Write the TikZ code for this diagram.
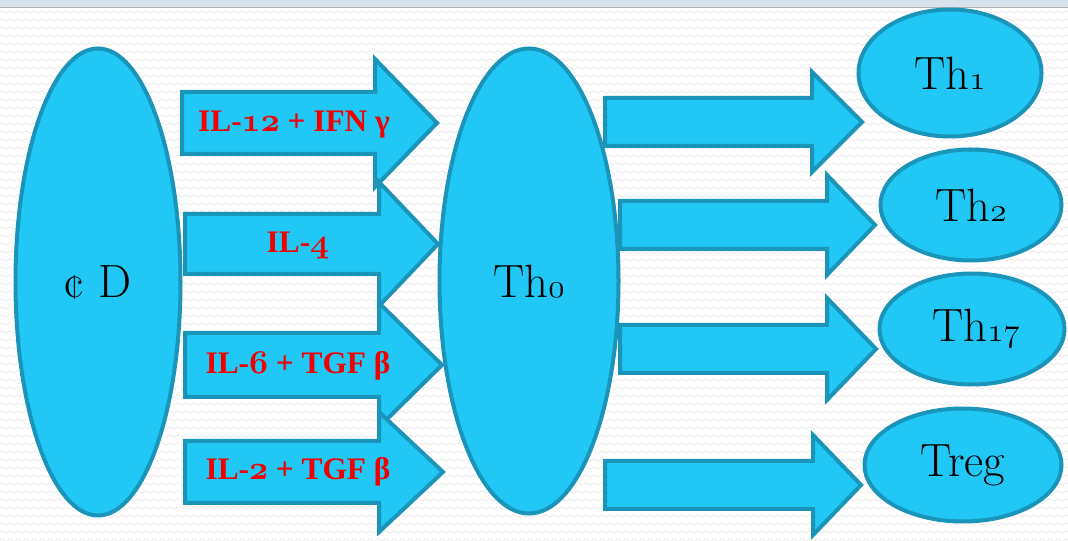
\documentclass[tikz,border=0pt]{standalone}
\usepackage{fontspec}
\newfontfamily\labelfont{Liberation Serif}
\usetikzlibrary{shapes.geometric,decorations.pathmorphing}
\definecolor{cellfill}{RGB}{34,200,245}
\definecolor{celledge}{RGB}{26,148,184}
\definecolor{labelred}{RGB}{240,0,0}
\definecolor{wave}{RGB}{236,236,236}
\definecolor{topband}{RGB}{214,226,236}
% old-style figures taken from the math italic fonts
\newcommand\os[1]{{\fontencoding{OML}\fontfamily{cmm}\fontseries{m}%
  \fontshape{it}\selectfont #1}}
\newcommand\osb[1]{{\fontencoding{OML}\fontfamily{cmm}\fontseries{b}%
  \fontshape{it}\selectfont #1}}
% block arrow: left x, head base x, tip x, centre y, half shaft, half head
\newcommand\blockarr[6]{%
  \draw[arrowbox] (#1,#4-#5) -- (#2,#4-#5) -- (#2,#4-#6) -- (#3,#4)
    -- (#2,#4+#6) -- (#2,#4+#5) -- (#1,#4+#5) -- cycle;}
\tikzset{
  cell/.style={ellipse, draw=celledge, fill=cellfill, line width=3pt,
    inner sep=0pt, font=\fontsize{35}{40}\selectfont},
  arrowbox/.style={draw=celledge, fill=cellfill, line width=3pt, line join=miter},
  cytokine/.style={text=labelred, font=\fontsize{23.5}{28}\selectfont\labelfont\bfseries, inner sep=0pt},
}
\begin{document}
\begin{tikzpicture}[x=0.75pt,y=-0.75pt]
\useasboundingbox (0,0) rectangle (1068,541);
\fill[white] (0,0) rectangle (1068,541);
% faint wavy background texture
\foreach \r in {0,...,66}
  \draw[wave, line width=0.6pt, decorate,
        decoration={zigzag, segment length=6pt, amplitude=1pt}]
    (0,12+\r*8) -- (1068,12+\r*8);
\fill[topband] (0,0) rectangle (1068,7);
\draw[gray!60, line width=0.6pt] (0,7) -- (1068,7);

% cells
\node[cell, minimum width=165*0.75pt, minimum height=467*0.75pt] (cd) at (98,282) {¢ D};
\node[cell, minimum width=179*0.75pt, minimum height=465*0.75pt] (th0) at (529,281) {Th\os{0}};
\node[cell, minimum width=183*0.75pt, minimum height=127*0.75pt] (th1) at (950,73) {Th\os{1}};
\node[cell, minimum width=181*0.75pt, minimum height=111*0.75pt] (th2) at (971,205) {Th\os{2}};
\node[cell, minimum width=185*0.75pt, minimum height=111*0.75pt] (th17) at (972,329) {\hspace*{6pt}Th\os{17}};
\node[cell, minimum width=197*0.75pt, minimum height=113*0.75pt] (treg) at (963,465) {Treg};

% block arrows from cD to Th0
\blockarr{182}{375}{437}{123}{31}{64}
\blockarr{185}{379}{438}{244}{30}{62}
\blockarr{185}{379}{442}{365}{32}{62}
\blockarr{185}{379}{443}{472}{31}{60}

% block arrows from Th0 to the subsets
\blockarr{605}{812}{862}{122}{24}{50}
\blockarr{620}{827}{875}{225}{24}{50}
\blockarr{620}{827}{876}{349}{24}{51}
\blockarr{605}{813}{861}{485}{24}{50}

% cytokine labels
\node[cytokine] (c1) at (294,125) {IL-\osb{12} + IFN γ};
\node[cytokine] (c2) at (298,245) {IL-\osb{4}};
\node[cytokine] (c3) at (298,366) {IL-\osb{6} + TGF β};
\node[cytokine] (c4) at (298,472) {IL-\osb{2} + TGF β};
\end{tikzpicture}
\end{document}
